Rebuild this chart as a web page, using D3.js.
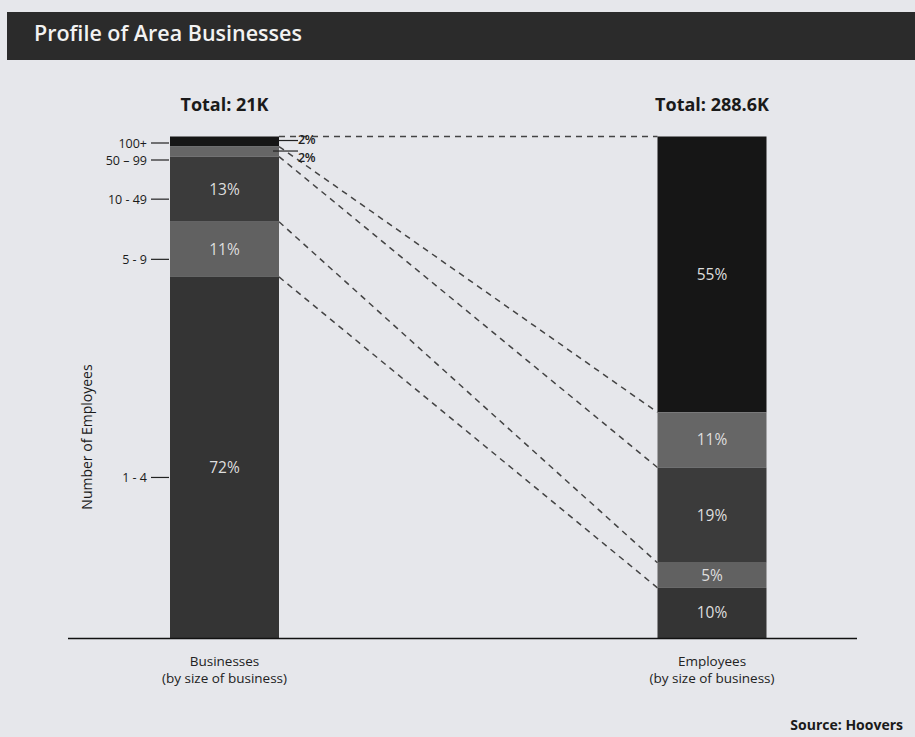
<!DOCTYPE html>
<html>
<head>
<meta charset="utf-8">
<script src="https://cdn.jsdelivr.net/npm/d3@7"></script>
<style>
  html, body { margin: 0; padding: 0; background: #e6e7eb; }
  svg { display: block; font-family: "Open Sans", "Noto Sans", sans-serif; }
</style>
</head>
<body>
<svg id="chart" width="915" height="737"></svg>
<script>
// Size bands, listed from the top of each stacked bar down
const sizeBands = ["100+", "50 – 99", "10 - 49", "5 - 9", "1 - 4"];
const businessShare = [2, 2, 13, 11, 72];   // % of businesses
const employeeShare = [55, 11, 19, 5, 10];  // % of employees
const bandColors = ["#161616", "#666666", "#3b3b3b", "#616161", "#343434"];
const barNames = ["Businesses", "Employees"];
const barTotals = ["Total: 21K", "Total: 288.6K"];

const svg = d3.select("#chart");
const W = 915, H = 737;

// Title banner
svg.append("rect").attr("x", 7).attr("y", 12).attr("width", W - 7).attr("height", 48)
  .attr("fill", "#2b2b2b");
svg.append("text").attr("x", 34).attr("y", 41)
  .attr("fill", "#f2f2f2").attr("font-size", 21.5).attr("font-weight", 600)
  .text("Profile of Area Businesses");

const plotTop = 136.5, plotBottom = 638;
const y = d3.scaleLinear().domain([0, 100]).range([plotTop, plotBottom]);
const xc = d3.scalePoint().domain(barNames).range([224.5, 712]);
const barW = 109;
const left = name => xc(name) - barW / 2;

function stackOf(values) {
  let acc = 0;
  return values.map((v, i) => {
    const s = { band: sizeBands[i], value: v, y0: acc, y1: acc + v, color: bandColors[i] };
    acc += v;
    return s;
  });
}
const stacks = [stackOf(businessShare), stackOf(employeeShare)];

// Dashed connectors between matching band boundaries of the two bars
const xL = left(barNames[0]) + barW, xR = left(barNames[1]);
const boundaries = d3.range(0, sizeBands.length).map(i => [stacks[0][i].y0, stacks[1][i].y0]);
svg.append("g").selectAll("line").data(boundaries).join("line")
  .attr("x1", xL).attr("x2", xR)
  .attr("y1", d => y(d[0])).attr("y2", d => y(d[1]))
  .attr("stroke", "#444").attr("stroke-width", 1.5).attr("stroke-dasharray", "6,5");

// Bars
stacks.forEach((stack, b) => {
  const g = svg.append("g");
  const cx = xc(barNames[b]);
  g.selectAll("rect").data(stack).join("rect")
    .attr("x", left(barNames[b])).attr("width", barW)
    .attr("y", d => y(d.y0)).attr("height", d => y(d.y1) - y(d.y0))
    .attr("fill", d => d.color);

  // Percent labels inside segments large enough to hold them
  const nudge = b === 0 ? { "1 - 4": 10 } : {};
  g.selectAll("text").data(stack.filter(d => y(d.y1) - y(d.y0) > 20)).join("text")
    .attr("x", cx)
    .attr("y", d => (y(d.y0) + y(d.y1)) / 2 + 5.5 + (nudge[d.band] || 0))
    .attr("text-anchor", "middle").attr("fill", "#dedede").attr("font-size", 15.5)
    .text(d => d.value + "%");

  // Totals above bars
  svg.append("text").attr("x", cx).attr("y", 111)
    .attr("text-anchor", "middle").attr("font-size", 18).attr("font-weight", 700)
    .attr("fill", "#1a1a1a").text(barTotals[b]);

  // Category captions under the baseline
  svg.append("text").attr("x", cx).attr("y", 666)
    .attr("text-anchor", "middle").attr("font-size", 13.5).attr("fill", "#222")
    .text(barNames[b]);
  svg.append("text").attr("x", cx).attr("y", 683)
    .attr("text-anchor", "middle").attr("font-size", 13.5).attr("fill", "#222")
    .text("(by size of business)");
});

// Outside callouts for the thin segments of the first bar
const thin = stacks[0].filter(d => y(d.y1) - y(d.y0) < 20);
thin.forEach((d, i) => {
  const ly = i === 0 ? (y(d.y0) + y(d.y1)) / 2 - 1 : y(d.y0) + 4.5;
  svg.append("line").attr("x1", xL - (i === 0 ? 0 : 6)).attr("x2", xL + 19)
    .attr("y1", ly).attr("y2", ly).attr("stroke", "#222").attr("stroke-width", 1.2);
  svg.append("text").attr("x", xL + 19).attr("y", ly + (i === 0 ? 3.8 : 10.5))
    .attr("font-size", 12.5).attr("font-weight", 600).attr("fill", "#222")
    .attr("letter-spacing", -0.3)
    .text(d.value + "%");
});

// Band labels with ticks to the left of the first bar
const tickPos = [];
stacks[0].forEach((d, i) => {
  const h = y(d.y1) - y(d.y0);
  if (h < 20) tickPos.push(plotTop + 6.5 + 17 * i);
  else tickPos.push((y(d.y0) + y(d.y1)) / 2 + 10 + (d.band === "1 - 4" ? 10 : 0));
});
const xBar0 = left(barNames[0]);
const ticks = svg.append("g");
stacks[0].forEach((d, i) => {
  ticks.append("line").attr("x1", xBar0 - 19).attr("x2", xBar0 - 1)
    .attr("y1", tickPos[i]).attr("y2", tickPos[i]).attr("stroke", "#222").attr("stroke-width", 1.2);
  ticks.append("text").attr("x", xBar0 - 23).attr("y", tickPos[i] + 4.5)
    .attr("text-anchor", "end").attr("font-size", 12.5).attr("fill", "#1a1a1a").text(d.band);
});

// Axis title
svg.append("text").attr("transform", "translate(92,437) rotate(-90)")
  .attr("text-anchor", "middle").attr("font-size", 14).attr("fill", "#1a1a1a")
  .text("Number of Employees");

// Baseline
svg.append("line").attr("x1", 68).attr("x2", 857).attr("y1", plotBottom + 0.5).attr("y2", plotBottom + 0.5)
  .attr("stroke", "#111").attr("stroke-width", 1.6);

// Source note
svg.append("text").attr("x", 903).attr("y", 730).attr("text-anchor", "end")
  .attr("font-size", 14).attr("font-weight", 700).attr("fill", "#1a1a1a")
  .text("Source: Hoovers");
</script>
</body>
</html>
